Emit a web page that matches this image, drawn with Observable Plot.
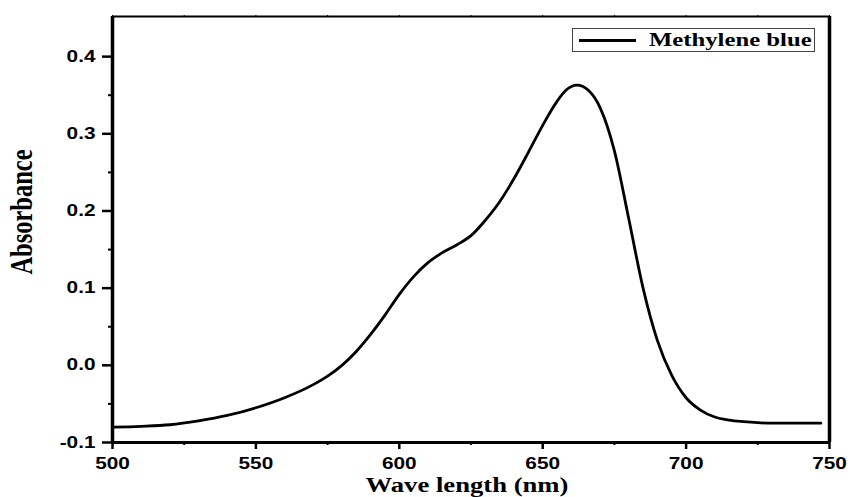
<!DOCTYPE html>
<html>
<head>
<meta charset="utf-8">
<script src="https://cdn.jsdelivr.net/npm/d3@7"></script>
<script src="https://cdn.jsdelivr.net/npm/@observablehq/plot@0.6"></script>
<style>
  html, body { margin: 0; padding: 0; background: #fff; }
  #wrap { position: relative; width: 848px; height: 497px; overflow: hidden; }
  #legend { position: absolute; left: 572px; top: 28px; width: 243px; height: 24px;
    border: 1px solid #444; box-sizing: border-box; background: #fff; }
  #legend .sw { position: absolute; left: 6px; top: 10px; width: 57px; height: 3px; background: #000; }
  #legend .lb { position: absolute; left: 76px; top: 0px; line-height: 22px; transform-origin: 0 50%;
    transform: scale(1.3, 1);
    font: bold 19px "Liberation Serif", "Times New Roman", serif; color: #000; white-space: nowrap; }
  .title { position: absolute; white-space: nowrap; color: #000;
    font-family: "Liberation Serif", "Times New Roman", serif; font-weight: bold; line-height: 1; }
  #xtitle { left: 467px; top: 485px; font-size: 20.5px; transform: translate(-50%, -50%) scale(1.3, 1); }
  #ytitle { left: 22px; top: 212px; font-size: 24.5px; transform: translate(-50%, -50%) scale(1.3, 1) rotate(-90deg); }
</style>
</head>
<body>
<div id="wrap">
  <div id="chart"></div>
  <div id="legend"><div class="sw"></div><div class="lb"></div></div>
  <div id="xtitle" class="title"></div>
  <div id="ytitle" class="title"></div>
</div>
<script>
const seriesName = "Methylene blue";
const wavelength = [500, 510, 520, 530, 540, 550, 560, 570, 575, 580, 585, 590, 595, 600, 605, 610, 615, 620, 625, 630, 635, 640, 645, 650, 655, 658, 662, 666, 670, 675, 680, 685, 690, 695, 700, 705, 710, 715, 720, 730, 740, 747];
const absorbance = [-0.080, -0.079, -0.077, -0.072, -0.065, -0.055, -0.042, -0.025, -0.014, 0.000, 0.018, 0.040, 0.065, 0.092, 0.115, 0.133, 0.146, 0.156, 0.168, 0.188, 0.212, 0.242, 0.276, 0.311, 0.342, 0.356, 0.363, 0.356, 0.334, 0.278, 0.190, 0.100, 0.032, -0.013, -0.042, -0.058, -0.067, -0.071, -0.073, -0.075, -0.075, -0.075];
const xMajor = [500, 550, 600, 650, 700, 750];
const xMinor = [525, 575, 625, 675, 725];
const yMajor = [-0.1, 0.0, 0.1, 0.2, 0.3, 0.4];
const yMinor = [-0.05, 0.05, 0.15, 0.25, 0.35];
const xDomain = [500, 750];
const yDomain = [-0.1, 0.452];
const xTitle = "Wave length (nm)";
const yTitle = "Absorbance";

const data = wavelength.map((w, i) => ({w, a: absorbance[i]}));
const tickFont = {fontSize: 16, fontWeight: "bold", fontFamily: "'Liberation Sans', Arial, sans-serif"};
const fmt = d => d.toFixed(1).replace("\u2212", "-");

const plot = Plot.plot({
  width: 848,
  height: 497,
  marginLeft: 112,
  marginRight: 19,
  marginTop: 16,
  marginBottom: 55,
  style: {background: "#fff", color: "#000", overflow: "visible"},
  x: {domain: xDomain},
  y: {domain: yDomain},
  marks: [
    Plot.axisX({ticks: xMajor, tickSize: 7, tickPadding: 8, strokeWidth: 2.5, tickFormat: d => String(d), label: null, ...tickFont}),
    Plot.axisX({ticks: xMinor, tickSize: 3, strokeWidth: 2, tickFormat: () => "", label: null}),
    Plot.axisX({ticks: xMajor.concat(xMinor), anchor: "top", tickSize: 2, strokeWidth: 1, tickFormat: () => "", label: null}),
    Plot.axisY({ticks: yMajor, tickSize: 10, tickPadding: 7, strokeWidth: 2.5, tickFormat: fmt, label: null, ...tickFont}),
    Plot.axisY({ticks: yMinor, tickSize: 4, strokeWidth: 2, tickFormat: () => "", label: null}),
    Plot.ruleY([yDomain[1]], {stroke: "#000", strokeWidth: 2}),
    Plot.ruleY([yDomain[0]], {stroke: "#000", strokeWidth: 3}),
    Plot.ruleX([xDomain[0]], {stroke: "#000", strokeWidth: 3.5}),
    Plot.ruleX([xDomain[1]], {stroke: "#000", strokeWidth: 3.5}),
    Plot.line(data, {x: "w", y: "a", curve: "monotone-x", stroke: "#000", strokeWidth: 2.8})
  ]
});
// horizontally stretched tick labels, as in the reference
d3.select(plot).selectAll('g[aria-label$="tick label"] text').each(function () {
  const t = this.getAttribute("transform") || "";
  this.setAttribute("transform", t + " scale(1.3,1)");
});
document.getElementById("chart").appendChild(plot);
document.querySelector("#legend .lb").textContent = seriesName;
document.getElementById("xtitle").textContent = xTitle;
document.getElementById("ytitle").textContent = yTitle;
</script>
</body>
</html>
